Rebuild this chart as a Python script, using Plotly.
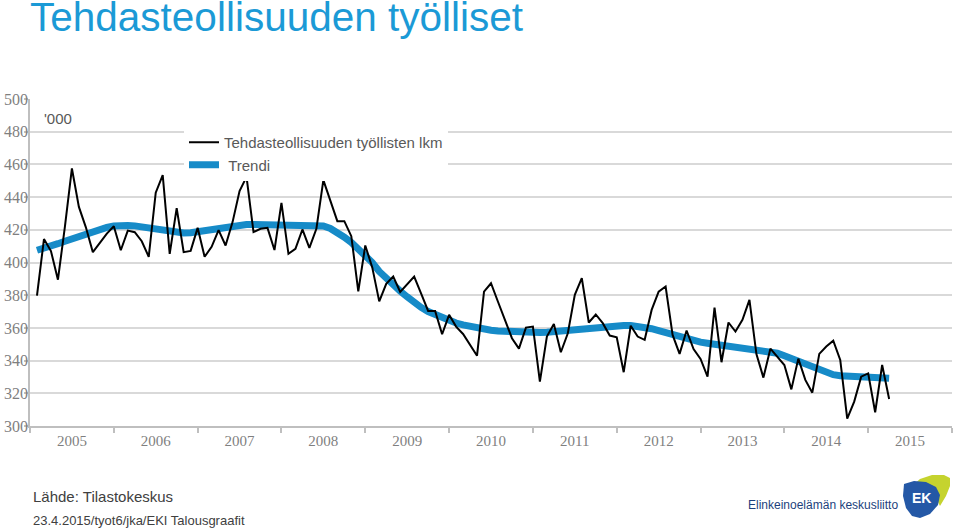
import plotly.graph_objects as go

# ---------------- data (monthly, Jan 2005 .. Mar 2015), thousands ----------------
start_year = 2005
employed = [
    379.8, 414.3, 407.0, 389.5, 422.0, 457.5, 434.0, 421.5, 406.3, 412.0, 417.7, 422.2,
    407.5, 419.5, 418.5, 413.0, 403.5, 442.7, 453.5, 405.3, 433.3, 406.3, 407.1, 421.2,
    403.5, 409.6, 419.8, 410.4, 424.7, 443.7, 452.4, 418.6, 420.6, 421.2, 407.6, 436.5,
    405.3, 408.4, 420.2, 409.0, 420.6, 450.4, 437.6, 425.3, 425.3, 416.1, 382.4, 410.4,
    397.0, 376.2, 387.0, 391.4, 382.0, 387.0, 391.4, 381.0, 370.4, 370.4, 356.1, 368.0,
    360.8, 356.3, 349.6, 343.0, 382.2, 387.3, 376.0, 364.9, 353.7, 347.3, 360.2, 360.8,
    327.1, 354.7, 362.4, 345.1, 356.7, 380.2, 390.4, 363.3, 368.2, 362.9, 355.3, 354.3,
    332.9, 361.3, 354.7, 352.7, 371.0, 382.2, 385.3, 355.7, 344.1, 358.4, 347.0, 341.0,
    330.2, 372.4, 339.0, 363.3, 357.8, 364.9, 377.1, 344.0, 329.6, 347.3, 342.4, 337.3,
    322.4, 341.2, 328.2, 320.4, 344.1, 348.6, 352.2, 340.4, 304.5, 314.9, 330.2, 332.2,
    308.4, 337.3, 316.5,
]
trend = [
    407.5, 408.5, 410.0, 411.5, 413.0, 414.5, 416.0, 417.5, 419.0, 420.5, 421.5, 422.3,
    422.7, 422.7, 422.4, 421.8, 421.0, 420.0, 419.2, 418.5, 418.1, 418.0, 418.2, 418.8,
    419.6, 420.5, 421.3, 422.0, 422.6, 423.0, 423.2, 423.3, 423.3, 423.3, 423.2, 423.1,
    423.0, 423.0, 423.1, 423.2, 423.0, 422.3, 420.8, 418.5, 415.5, 412.3, 408.5, 404.5,
    400.0, 394.5, 390.0, 386.0, 382.5, 379.0, 375.5, 372.5, 370.0, 368.0, 366.0, 364.5,
    363.0, 361.8, 360.8, 360.0, 359.2, 358.6, 358.1, 357.8, 357.5, 357.3, 357.2, 357.2,
    357.2, 357.4, 357.8, 358.3, 358.8, 359.4, 359.9, 360.4, 360.8, 361.1, 361.3, 361.4,
    361.4, 361.4, 361.1, 360.5, 359.5, 358.3, 357.0, 355.7, 354.5, 353.2, 352.2, 351.3,
    350.6, 350.0, 349.5, 349.1, 348.7, 348.3, 347.8, 347.2, 346.5, 345.6, 344.5, 343.0,
    341.3, 339.4, 337.4, 335.5, 333.8, 332.4, 331.4, 330.8, 330.5, 330.4, 330.4, 330.3,
    330.1, 329.7, 329.2,
]
years = list(range(2005, 2016))
year_labels = [str(y) for y in years]
y_ticks = [300, 320, 340, 360, 380, 400, 420, 440, 460, 480, 500]

# x position of each monthly point (end of month on a yearly scale)
xs = [start_year + (i + 1) / 12 for i in range(len(employed))]

# ---------------- geometry helpers ----------------
W, H = 960, 529
ML, MR, MT, MB = 30, 8, 99, 103
PW, PH = W - ML - MR, H - MT - MB


def px(x):
    return (x - ML) / PW


def py(y):
    return (H - MB - y) / PH


fig = go.Figure()
fig.add_trace(go.Scatter(
    x=xs, y=trend, mode="lines", name="\u00a0Trendi",
    line=dict(color="#168bc8", width=7), legendrank=2,
))
fig.add_trace(go.Scatter(
    x=xs, y=employed, mode="lines", name="Tehdasteollisuuden työllisten lkm",
    line=dict(color="#000000", width=2), legendrank=1,
))

fig.update_layout(
    width=W, height=H,
    margin=dict(l=ML, r=MR, t=MT, b=MB, autoexpand=False),
    paper_bgcolor="white", plot_bgcolor="white",
    showlegend=True,
    legend=dict(
        x=px(184), y=py(126), xanchor="left", yanchor="top",
        bgcolor="white", borderwidth=0,
        font=dict(family="Liberation Sans, Arial, sans-serif", size=15, color="#595959"),
        tracegroupgap=0,
    ),
    xaxis=dict(
        range=[2005, 2016], showgrid=False, zeroline=False, automargin=False,
        showline=True, linecolor="#bfbfbf", linewidth=1.5,
        tickmode="array", tickvals=[y + 0.5 for y in years], ticktext=year_labels,
        ticks="", tickfont=dict(family="Liberation Serif, Times New Roman, serif", size=15, color="#7f7f7f"),
        minor=dict(tickmode="array", tickvals=list(range(2005, 2017)), ticks="outside",
                   ticklen=5, tickcolor="#bfbfbf", tickwidth=1.5, showgrid=False),
    ),
    yaxis=dict(
        range=[300, 500], tickmode="array", tickvals=y_ticks, automargin=False,
        showgrid=True, gridcolor="#d9d9d9", gridwidth=1.5, zeroline=False,
        showline=True, linecolor="#bfbfbf", linewidth=1.5,
        ticks="outside", ticklen=4, tickcolor="#bfbfbf", tickwidth=1.5,
        ticklabelstandoff=-7,
        tickfont=dict(family="Liberation Serif, Times New Roman, serif", size=16, color="#7f7f7f"),
    ),
)

annotations = [
    dict(text="Tehdasteollisuuden työlliset", x=px(28), y=py(17), xanchor="left", yanchor="middle",
         font=dict(family="Liberation Sans, Arial, sans-serif", size=40.5, color="#1b9ad6")),
    dict(text="'000", x=px(42), y=py(118), xanchor="left", yanchor="middle",
         font=dict(family="Liberation Sans, Arial, sans-serif", size=15, color="#595959")),
    dict(text="Lähde: Tilastokeskus", x=px(31), y=py(496), xanchor="left", yanchor="middle",
         font=dict(family="Liberation Sans, Arial, sans-serif", size=15, color="#404040")),
    dict(text="23.4.2015/tyot6/jka/EKI Talousgraafit", x=px(31), y=py(520), xanchor="left", yanchor="middle",
         font=dict(family="Liberation Sans Narrow, Liberation Sans, Arial, sans-serif", size=13, color="#404040")),
    dict(text="Elinkeinoelämän keskusliitto", x=px(746), y=py(505), xanchor="left", yanchor="middle",
         font=dict(family="Liberation Sans, Arial, sans-serif", size=12, color="#1c3f7c")),
    dict(text="<b>EK</b>", x=px(921), y=py(498), xanchor="center", yanchor="middle",
         font=dict(family="Liberation Sans, Arial, sans-serif", size=14, color="white")),
]
for a in annotations:
    a.update(xref="paper", yref="paper", showarrow=False)
fig.update_layout(annotations=annotations)


def path(points):
    return "M " + " L ".join(f"{px(x):.5f},{py(y):.5f}" for x, y in points) + " Z"


# EK logo (decorative): yellow-green swoosh and blue shield
swoosh = [(912, 486), (920, 479), (932, 475), (944, 475), (950, 478), (950, 486), (946, 496),
          (940, 506), (936, 498), (930, 488), (922, 484)]
shield = [(904, 484), (914, 481), (926, 482), (936, 487), (940, 495), (938, 505), (930, 514),
          (920, 518), (912, 516), (906, 508), (903, 496)]
fig.update_layout(shapes=[
    dict(type="path", path=path(swoosh), xref="paper", yref="paper",
         fillcolor="#c5d32e", line=dict(width=0), layer="above"),
    dict(type="path", path=path(shield), xref="paper", yref="paper",
         fillcolor="#2458a6", line=dict(width=0), layer="above"),
])

# remove the browser's default page margin so the figure fills the window exactly
fig.write_html(
    "out.html",
    config={"displayModeBar": False},
    post_script="document.body.style.margin='0';document.body.style.overflow='hidden';",
)
